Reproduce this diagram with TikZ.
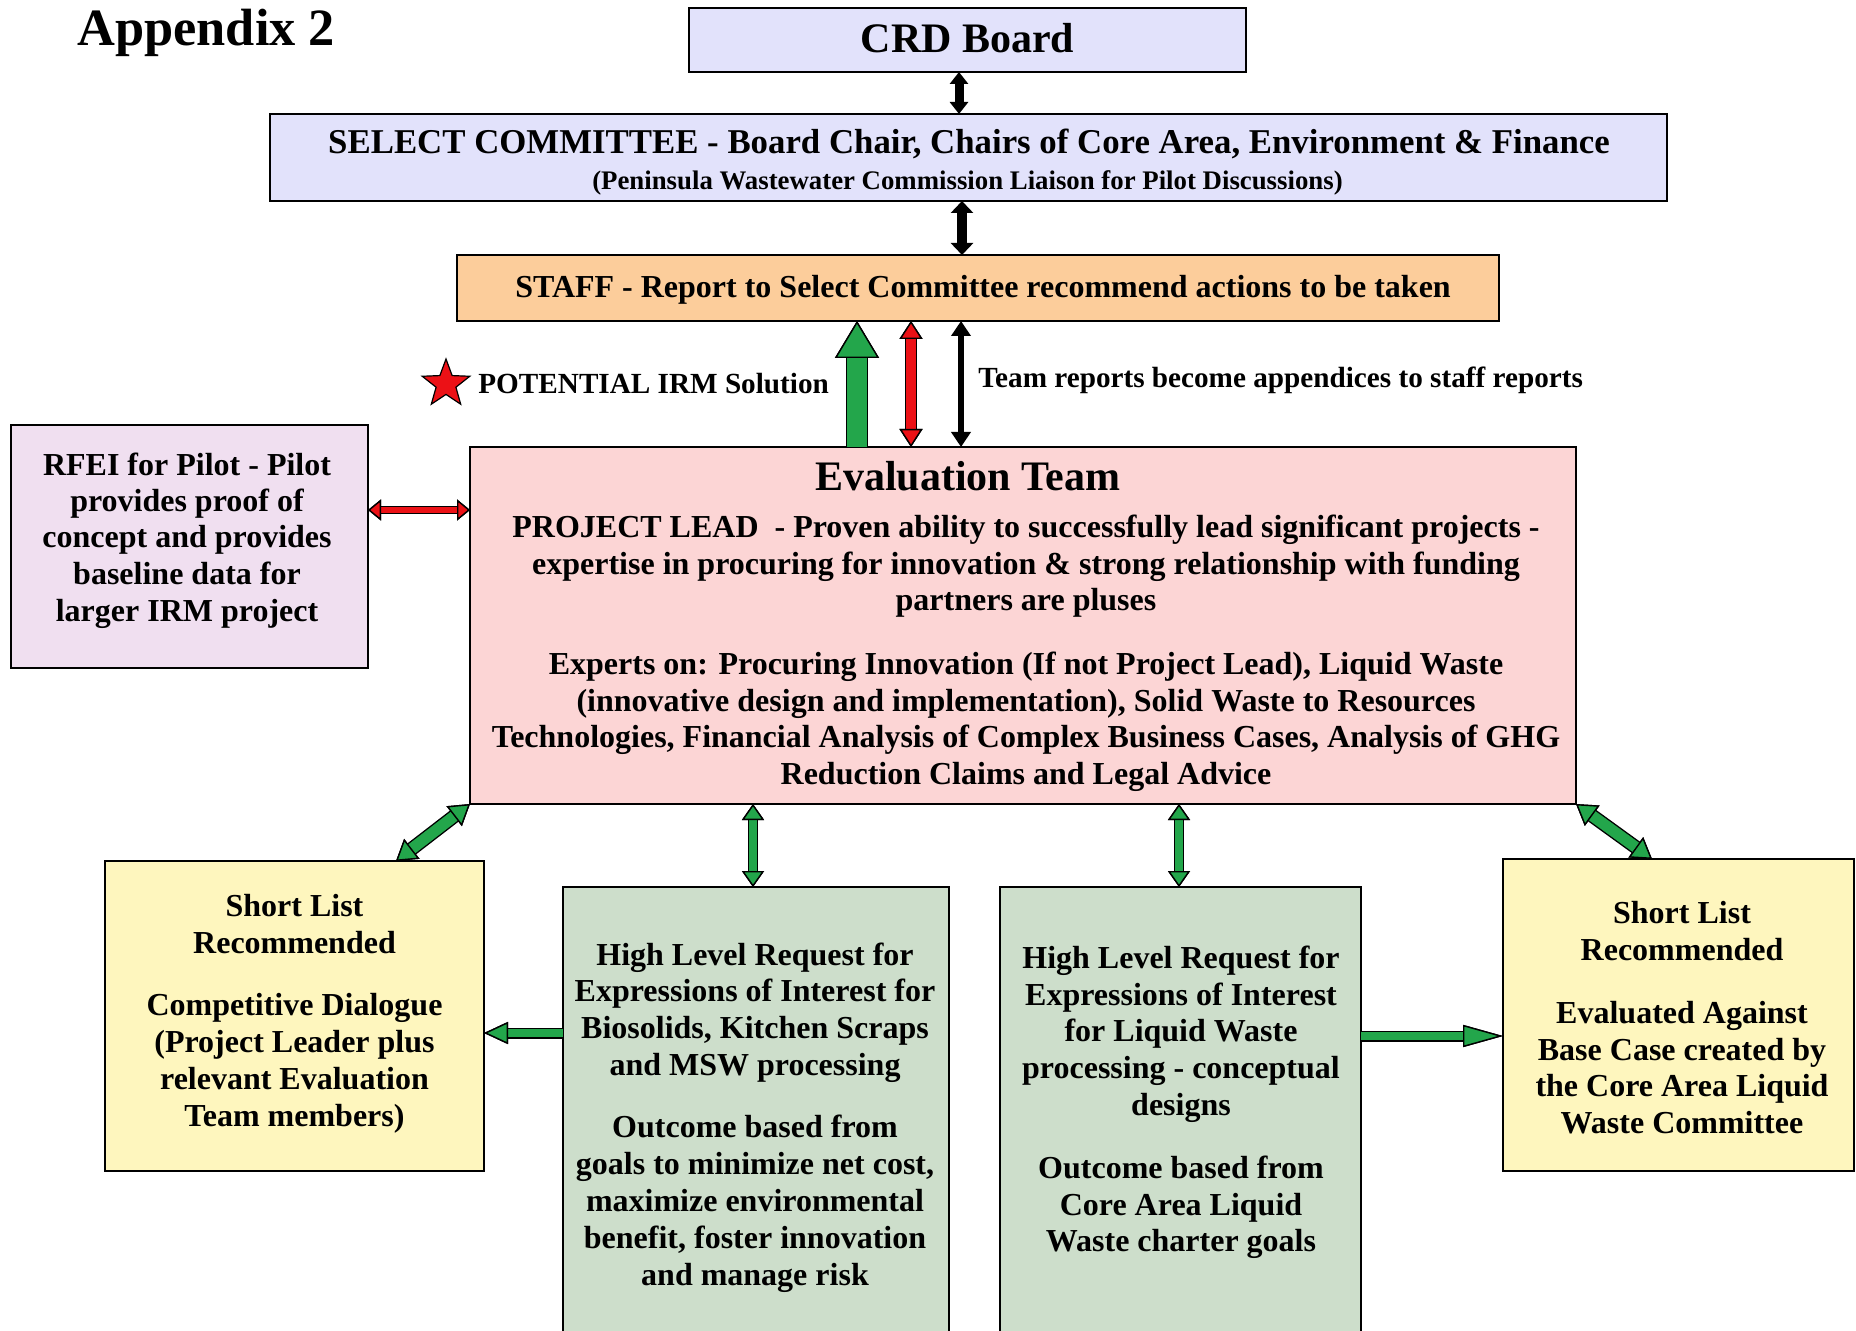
\documentclass[tikz,border=0pt]{standalone}
\usepackage{fontspec}
\setmainfont{Liberation Serif}
\usetikzlibrary{arrows.meta,shapes.geometric,calc}
\definecolor{lav}{RGB}{226,226,251}
\definecolor{peach}{RGB}{252,205,155}
\definecolor{pinkb}{RGB}{252,213,213}
\definecolor{lilac}{RGB}{240,223,240}
\definecolor{yel}{RGB}{254,246,190}
\definecolor{sage}{RGB}{205,222,203}
\definecolor{agreen}{RGB}{35,166,75}
\definecolor{ared}{RGB}{236,17,22}
\tikzset{
  tKa/.tip={Triangle[length=6pt,width=9pt]},
  tKb/.tip={Triangle[length=6pt,width=11pt]},
  tKc/.tip={Triangle[length=7.5pt,width=9.5pt]},
  tGup/.tip={Triangle[length=18.5pt,width=22pt,line width=0.7pt,color=black,fill=agreen]},
  tRa/.tip={Triangle[length=9pt,width=11.5pt,line width=0.7pt,color=black,fill=ared]},
  tRb/.tip={Triangle[length=6.5pt,width=10.5pt,line width=0.7pt,color=black,fill=ared]},
  tGd/.tip={Triangle[length=10pt,width=12.5pt,line width=0.7pt,color=black,fill=agreen]},
  tGv/.tip={Triangle[length=8pt,width=11pt,line width=0.7pt,color=black,fill=agreen]},
  tGl/.tip={Triangle[length=12pt,width=11pt,line width=0.7pt,color=black,fill=agreen]},
  tGr/.tip={Triangle[length=20pt,width=11pt,line width=0.7pt,color=black,fill=agreen]},
}
\begin{document}
\begin{tikzpicture}[x=0.5pt,y=-0.5pt,
  box/.style={draw=black, line width=1.2pt, inner sep=0pt, outer sep=0pt},
  tx/.style={inner sep=0pt, anchor=base, font=\bfseries\fontsize{16}{18}\selectfont},
  lbl/.style={inner sep=0pt, anchor=base west, font=\bfseries\fontsize{14.6}{17}\selectfont},
]
\useasboundingbox (0,0) rectangle (1856,1331);
\clip (0,0) rectangle (1856,1331);

% boxes
\node[box, fill=lav, minimum width=278.5pt, minimum height=32pt] (crd) at (967.5,40) {};
\node[box, fill=lav, minimum width=698.5pt, minimum height=43.5pt] (sel) at (968.5,157.5) {};
\node[box, fill=peach, minimum width=521pt, minimum height=33pt] (staff) at (978,288) {};
\node[box, fill=pinkb, minimum width=553pt, minimum height=178.5pt] (eval) at (1023,625.5) {};
\node[box, fill=lilac, minimum width=178.5pt, minimum height=121.5pt] (rfei) at (189.5,546.5) {};
\node[box, fill=yel, minimum width=189.5pt, minimum height=155pt] (yl) at (294.5,1016) {};
\node[box, fill=sage, minimum width=193pt, minimum height=229pt] (g1) at (756,1116) {};
\node[box, fill=sage, minimum width=180.5pt, minimum height=229pt] (g2) at (1180.5,1116) {};
\node[box, fill=yel, minimum width=175.5pt, minimum height=156pt] (yr) at (1678.5,1015) {};

% helper coordinates for connector positions
\coordinate (c1) at (959,0);
\coordinate (c2) at (962,0);
\coordinate (c3) at (857,0);
\coordinate (c4) at (911,0);
\coordinate (c5) at (961,0);
\coordinate (c6) at (0,510);
\coordinate (c7) at (396,0);
\coordinate (c8) at (1652,0);
\coordinate (c9) at (753,0);
\coordinate (c10) at (1179,0);
\coordinate (c11) at (0,1033);
\coordinate (c12) at (0,1036);

% connectors
\draw[black, line width=4.5pt, tKa-tKa] (crd.south -| c1) -- (sel.north -| c1);
\draw[black, line width=5pt, tKb-tKb] (sel.south -| c2) -- (staff.north -| c2);
\draw[draw=agreen, line width=9.6pt, preaction={draw=black, line width=11pt}, -tGup] (eval.north -| c3) -- (staff.south -| c3);
\draw[draw=ared, line width=4.6pt, preaction={draw=black, line width=6pt}, tRa-tRa] (eval.north -| c4) -- (staff.south -| c4);
\draw[black, line width=3pt, tKc-tKc] (eval.north -| c5) -- (staff.south -| c5);
\draw[draw=ared, line width=2.8pt, preaction={draw=black, line width=4.2pt}, tRb-tRb] (rfei.east |- c6) -- (eval.west |- c6);
\draw[draw=agreen, line width=5.6pt, preaction={draw=black, line width=7pt}, tGd-tGd] (eval.south west) -- (yl.north -| c7);
\draw[draw=agreen, line width=5.6pt, preaction={draw=black, line width=7pt}, tGd-tGd] (eval.south east) -- (yr.north -| c8);
\draw[draw=agreen, line width=3.6pt, preaction={draw=black, line width=5pt}, tGv-tGv] (eval.south -| c9) -- (g1.north -| c9);
\draw[draw=agreen, line width=3.6pt, preaction={draw=black, line width=5pt}, tGv-tGv] (eval.south -| c10) -- (g2.north -| c10);
\draw[draw=agreen, line width=4.1pt, preaction={draw=black, line width=5.5pt}, -tGl] (g1.west |- c11) -- (yl.east |- c11);
\draw[draw=agreen, line width=4.1pt, preaction={draw=black, line width=5.5pt}, -tGr] (g2.east |- c12) -- (yr.west |- c12);

% star
\node[star, star points=5, star point ratio=2.4, fill=ared, draw=black, line width=0.6pt, minimum size=25pt, inner sep=0pt] (star) at (446,384) {};

% texts
\node[inner sep=0pt, anchor=base west, font=\bfseries\fontsize{26.2}{30}\selectfont] (app) at (77,46) {Appendix 2};
\node[tx, font=\bfseries\fontsize{21}{24}\selectfont] (crdt) at (967.5,53) {CRD Board};
\node[tx, font=\bfseries\fontsize{17.4}{20}\selectfont] (selt1) at (969,154) {SELECT COMMITTEE - Board Chair, Chairs of Core Area, Environment \& Finance};
\node[tx, font=\bfseries\fontsize{13.4}{16}\selectfont] (selt2) at (967.5,190) {(Peninsula Wastewater Commission Liaison for Pilot Discussions)};
\node[tx, font=\bfseries\fontsize{16}{18}\selectfont] (stafft) at (983,298) {STAFF - Report to Select Committee recommend actions to be taken};
\node[lbl] (pot) at (478,394) {POTENTIAL IRM Solution};
\node[lbl] (team) at (978,388) {Team reports become appendices to staff reports};
\node[tx, font=\bfseries\fontsize{21}{24}\selectfont] (evt) at (967.7,490) {Evaluation Team};

\foreach \yy/\lb [count=\i] in {537.3/{PROJECT LEAD~~- Proven ability to successfully lead significant projects -},
  574/{expertise in procuring for innovation \& strong relationship with funding},
  610.6/{partners are pluses},
  674.5/{Experts on: Procuring Innovation (If not Project Lead), Liquid Waste},
  711.2/{(innovative design and implementation), Solid Waste to Resources},
  747.9/{Technologies, Financial Analysis of Complex Business Cases, Analysis of GHG},
  784.6/{Reduction Claims and Legal Advice}}
  \node[tx] (ev\i) at (1026,\yy) {\lb};

\foreach \yy/\lb [count=\i] in {475/{RFEI for Pilot - Pilot}, 511/{provides proof of},
  547.7/{concept and provides}, 584.3/{baseline data for}, 621/{larger IRM project}}
  \node[tx] (rf\i) at (187,\yy) {\lb};

\foreach \yy/\lb [count=\i] in {916.7/{Short List}, 953/{Recommended}, 1015/{Competitive Dialogue},
  1052.7/{(Project Leader plus}, 1089.3/{relevant Evaluation}, 1126/{Team members)}}
  \node[tx] (yll\i) at (294.5,\yy) {\lb};

\foreach \yy/\lb [count=\i] in {965/{High Level Request for}, 1001.7/{Expressions of Interest for},
  1038.3/{Biosolids, Kitchen Scraps}, 1075/{and MSW processing}, 1137.7/{Outcome based from},
  1174.3/{goals to minimize net cost,}, 1211/{maximize environmental},
  1248.3/{benefit, foster innovation}, 1285/{and manage risk}}
  \node[tx] (gal\i) at (755,\yy) {\lb};

\foreach \yy/\lb [count=\i] in {968.3/{High Level Request for}, 1005/{Expressions of Interest},
  1041.7/{for Liquid Waste}, 1078.3/{processing - conceptual}, 1115/{designs},
  1178.3/{Outcome based from}, 1215/{Core Area Liquid}, 1251.7/{Waste charter goals}}
  \node[tx] (gbl\i) at (1181,\yy) {\lb};

\foreach \yy/\lb [count=\i] in {923.3/{Short List}, 960/{Recommended}, 1023.3/{Evaluated Against},
  1060/{Base Case created by}, 1096.7/{the Core Area Liquid}, 1133.3/{Waste Committee}}
  \node[tx] (yrl\i) at (1682,\yy) {\lb};
\end{tikzpicture}
\end{document}
